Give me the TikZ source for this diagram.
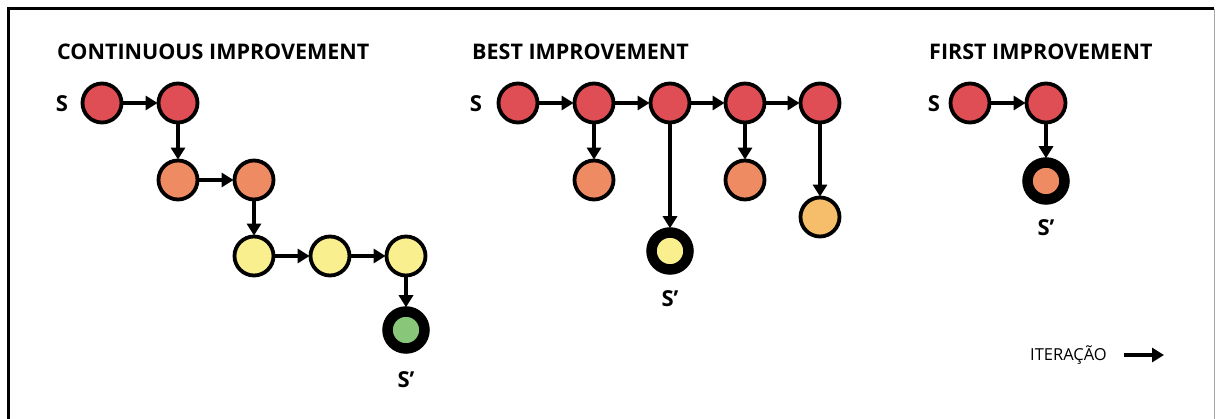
\documentclass[tikz,border=0pt]{standalone}
\usepackage{fontspec}
\setmainfont{Open Sans}
\usetikzlibrary{arrows.meta}
\definecolor{cred}{HTML}{E04E55}
\definecolor{corange}{HTML}{EE8B62}
\definecolor{cyellow}{HTML}{F9EF8E}
\definecolor{cgreen}{HTML}{88C77A}
\definecolor{clorange}{HTML}{F6BE6B}
\tikzset{
  st/.style={circle, draw=black, line width=3.8pt, minimum size=39pt, inner sep=0pt},
  final/.style={circle, draw=black, line width=10.5pt, minimum size=37pt, inner sep=0pt},
  link/.style={line width=3.6pt, -{Triangle[length=12pt,width=14pt]}, shorten >=-1pt},
  ttl/.style={anchor=base west, font=\bfseries\fontsize{21.5}{24}\selectfont, inner sep=0pt},
  lbl/.style={font=\bfseries\fontsize{22}{24}\selectfont, inner sep=0pt},
}
\begin{document}
\begin{tikzpicture}[x=1pt, y=-1pt]
\useasboundingbox (0,0) rectangle (1216,419);
% frame
\draw[line width=3pt] (8,425) -- (8,9) -- (1214,9);
\draw[gray!70, line width=1pt] (1214,9) -- (1214,425);

% continuous improvement
\node[ttl] (t1) at (57,60) {CONTINUOUS IMPROVEMENT};
\node[lbl] (s1) at (62,104) {S};
\node[st, fill=cred] (c1) at (102,103) {};
\node[st, fill=cred] (c2) at (178,103) {};
\node[st, fill=corange] (c3) at (178,180) {};
\node[st, fill=corange] (c4) at (254,180) {};
\node[st, fill=cyellow] (c5) at (254,256) {};
\node[st, fill=cyellow] (c6) at (330,256) {};
\node[st, fill=cyellow] (c7) at (406,256) {};
\node[final, fill=cgreen] (c8) at (406,330) {};
\node[lbl] (e1) at (406,380) {S’};
\draw[link] (c1) -- (c2);
\draw[link] (c2) -- (c3);
\draw[link] (c3) -- (c4);
\draw[link] (c4) -- (c5);
\draw[link] (c5) -- (c6);
\draw[link] (c6) -- (c7);
\draw[link] (c7) -- (c8);

% best improvement
\node[ttl] (t2) at (472,60) {BEST IMPROVEMENT};
\node[lbl] (s2) at (476,104) {S};
\node[st, fill=cred] (b1) at (518,103) {};
\node[st, fill=cred] (b2) at (594,103) {};
\node[st, fill=cred] (b3) at (670,103) {};
\node[st, fill=cred] (b4) at (745,103) {};
\node[st, fill=cred] (b5) at (820,103) {};
\node[st, fill=corange] (b6) at (594,180) {};
\node[final, fill=cyellow] (b7) at (670,251) {};
\node[st, fill=corange] (b8) at (745,180) {};
\node[st, fill=clorange] (b9) at (820,217) {};
\node[lbl] (e2) at (670,299) {S’};
\draw[link] (b1) -- (b2);
\draw[link] (b2) -- (b3);
\draw[link] (b3) -- (b4);
\draw[link] (b4) -- (b5);
\draw[link] (b2) -- (b6);
\draw[link] (b3) -- (b7);
\draw[link] (b4) -- (b8);
\draw[link] (b5) -- (b9);

% first improvement
\node[ttl] (t3) at (929,60) {FIRST IMPROVEMENT};
\node[lbl] (s3) at (934,104) {S};
\node[st, fill=cred] (f1) at (970,103) {};
\node[st, fill=cred] (f2) at (1046,103) {};
\node[final, fill=corange] (f3) at (1046,181) {};
\node[lbl] (e3) at (1046,228) {S’};
\draw[link] (f1) -- (f2);
\draw[link] (f2) -- (f3);

% legend
\node[anchor=base west, inner sep=0pt, font=\fontsize{16.5}{19}\selectfont] (it) at (1030,361) {ITERAÇÃO};
\coordinate (ia) at (1124,355);
\coordinate (ib) at (1164,355);
\draw[link, shorten >=0pt] (ia) -- (ib);
\end{tikzpicture}
\end{document}
